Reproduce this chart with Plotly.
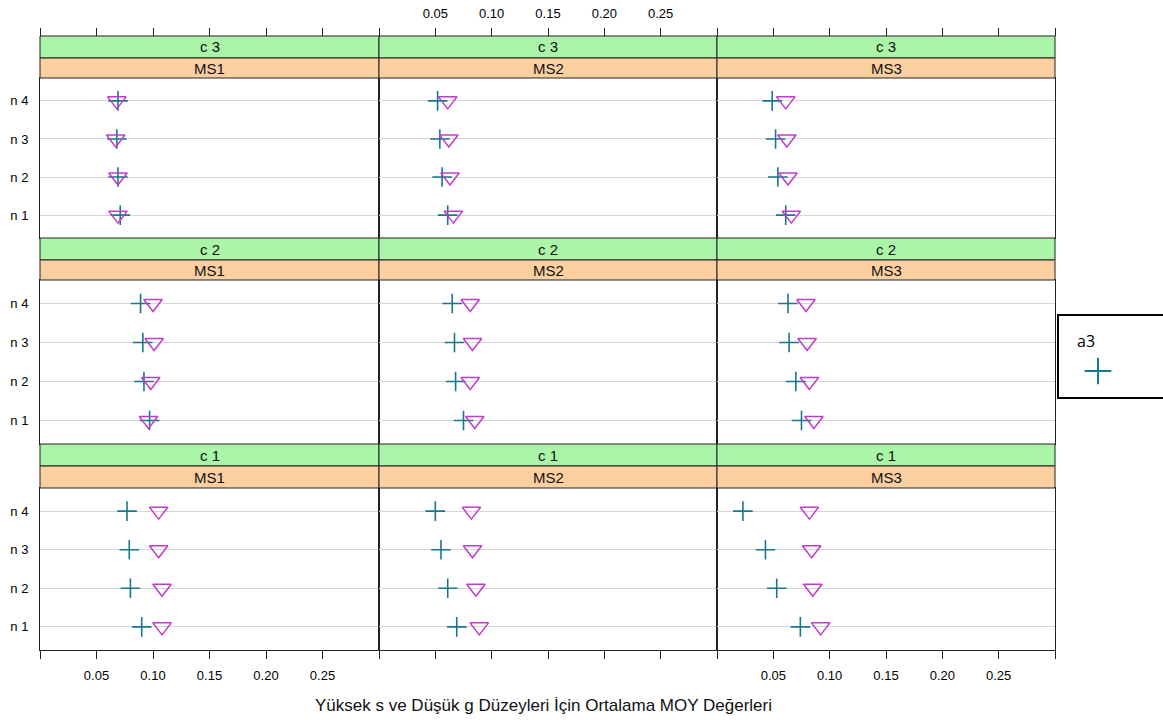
import plotly.graph_objects as go

# ---------------- data ----------------
n_levels = ["n 1", "n 2", "n 3", "n 4"]
ms_levels = ["MS1", "MS2", "MS3"]
c_levels = ["c 3", "c 2", "c 1"]          # top row -> bottom row
x_ticks = [0.0, 0.05, 0.10, 0.15, 0.20, 0.25, 0.30]
x_ticktext = ["", "0.05", "0.10", "0.15", "0.20", "0.25", ""]

# values for n1..n4, per MS1/MS2/MS3
plus_c3 = [[0.071, 0.069, 0.068, 0.069], [0.061, 0.056, 0.054, 0.052], [0.061, 0.054, 0.052, 0.049]]
tri_c3 = [[0.069, 0.069, 0.067, 0.068], [0.066, 0.063, 0.062, 0.061], [0.066, 0.063, 0.062, 0.061]]
plus_c2 = [[0.097, 0.092, 0.091, 0.089], [0.075, 0.068, 0.067, 0.065], [0.075, 0.070, 0.064, 0.063]]
tri_c2 = [[0.096, 0.098, 0.101, 0.100], [0.085, 0.081, 0.083, 0.081], [0.086, 0.082, 0.080, 0.079]]
plus_c1 = [[0.090, 0.080, 0.079, 0.077], [0.069, 0.061, 0.055, 0.050], [0.074, 0.053, 0.043, 0.023]]
tri_c1 = [[0.108, 0.108, 0.105, 0.105], [0.089, 0.086, 0.083, 0.082], [0.092, 0.085, 0.084, 0.082]]

plus_rows = [plus_c3, plus_c2, plus_c1]
tri_rows = [tri_c3, tri_c2, tri_c1]

legend_label = "a3"
x_title = "Yüksek s ve Düşük g Düzeyleri İçin Ortalama MOY Değerleri"

# ---------------- layout geometry (pixels) ----------------
W, H = 1163, 720
col_px = [(40, 379), (379, 717), (717, 1055)]
panel_px = [(78, 238), (280, 444), (488, 650)]
green_px = [(36, 58), (238, 260), (444, 466)]
orange_px = [(58, 78), (260, 280), (466, 488)]

PLUS_COL = "#17778C"
TRI_COL = "#C13CC9"
GREEN = "#AAF5A7"
ORANGE = "#FCCFA1"
FONT = "Liberation Sans"

def fx(px):
    return px / W

def fy(py):
    return 1 - py / H

fig = go.Figure()
layout = dict(
    width=W, height=H, margin=dict(l=0, r=0, t=0, b=0, autoexpand=False),
    paper_bgcolor="white", plot_bgcolor="white", showlegend=False,
    font=dict(family=FONT, color="black"),
)
shapes = []
annotations = []
ypos = [1, 2, 3, 4]

idx = 0
for r in range(3):
    for c in range(3):
        idx += 1
        xa = "x" if idx == 1 else f"x{idx}"
        ya = "y" if idx == 1 else f"y{idx}"
        fig.add_trace(go.Scatter(
            x=plus_rows[r][c], y=ypos, mode="markers", xaxis=xa, yaxis=ya,
            marker=dict(symbol="cross-thin-open", size=14, color=PLUS_COL,
                        line=dict(color=PLUS_COL, width=1.6)),
            cliponaxis=False))
        fig.add_trace(go.Scatter(
            x=tri_rows[r][c], y=ypos, mode="markers", xaxis=xa, yaxis=ya,
            marker=dict(symbol="triangle-down-open", size=16, color=TRI_COL,
                        line=dict(color=TRI_COL, width=1.5)),
            cliponaxis=False))
        bottom = (r == 2)
        xkey = "xaxis" if idx == 1 else f"xaxis{idx}"
        ykey = "yaxis" if idx == 1 else f"yaxis{idx}"
        layout[xkey] = dict(
            domain=[fx(col_px[c][0]), fx(col_px[c][1])], range=[0, 0.3],
            anchor=ya, showgrid=False, zeroline=False, automargin=False,
            showline=True, mirror=True, linecolor="#222", linewidth=1,
            tickvals=x_ticks, ticktext=x_ticktext,
            ticks="outside" if bottom else "", ticklen=8, tickcolor="#222",
            showticklabels=bottom and c != 1,
            tickfont=dict(size=13, family=FONT), ticklabelstandoff=5,
        )
        layout[ykey] = dict(
            domain=[fy(panel_px[r][1]), fy(panel_px[r][0])], range=[0.4, 4.6],
            anchor=xa, showgrid=True, gridcolor="#d6d6d6", gridwidth=1, zeroline=False,
            automargin=False,
            showline=True, mirror=True, linecolor="#222", linewidth=1,
            tickvals=ypos, ticktext=n_levels, ticks="",
            showticklabels=(c == 0), tickfont=dict(size=13, family=FONT),
            ticklabelstandoff=8,
        )
        # strips
        shapes.append(dict(type="rect", xref="paper", yref="paper",
                           x0=fx(col_px[c][0]), x1=fx(col_px[c][1]),
                           y0=fy(green_px[r][1]), y1=fy(green_px[r][0]),
                           fillcolor=GREEN, line=dict(color="#222", width=1), layer="above"))
        shapes.append(dict(type="rect", xref="paper", yref="paper",
                           x0=fx(col_px[c][0]), x1=fx(col_px[c][1]),
                           y0=fy(orange_px[r][1]), y1=fy(orange_px[r][0]),
                           fillcolor=ORANGE, line=dict(color="#222", width=1), layer="above"))
        annotations.append(dict(xref="paper", yref="paper",
                                x=fx((col_px[c][0] + col_px[c][1]) / 2),
                                y=fy((green_px[r][0] + green_px[r][1]) / 2),
                                text=c_levels[r], showarrow=False,
                                font=dict(size=15, family=FONT, color="#111"),
                                xanchor="center", yanchor="middle"))
        annotations.append(dict(xref="paper", yref="paper",
                                x=fx((col_px[c][0] + col_px[c][1]) / 2),
                                y=fy((orange_px[r][0] + orange_px[r][1]) / 2),
                                text=ms_levels[c], showarrow=False,
                                font=dict(size=15, family=FONT, color="#111"),
                                xanchor="center", yanchor="middle"))

# top tick axes (above the top strips)
for c in range(3):
    k = 10 + c
    base = "x" if c == 0 else f"x{c + 1}"
    fig.add_trace(go.Scatter(x=[None], y=[None], xaxis=f"x{k}", yaxis="y" if c == 0 else f"y{c + 1}",
                             mode="markers", hoverinfo="skip"))
    layout[f"xaxis{k}"] = dict(
        overlaying=base, anchor="free", position=fy(36), side="top",
        range=[0, 0.3], showgrid=False, zeroline=False, showline=True, automargin=False,
        linecolor="#222", linewidth=1,
        tickvals=x_ticks, ticktext=x_ticktext, ticks="outside", ticklen=8, tickcolor="#222",
        showticklabels=(c == 1), tickfont=dict(size=13, family=FONT), ticklabelstandoff=5,
    )

# legend (key box)
shapes.append(dict(type="rect", xref="paper", yref="paper",
                   x0=fx(1058), x1=fx(1170), y0=fy(398), y1=fy(315),
                   line=dict(color="black", width=2), fillcolor="white", layer="below"))
annotations.append(dict(xref="paper", yref="paper", x=fx(1075), y=fy(341), text=legend_label,
                        showarrow=False, xanchor="left", yanchor="middle",
                        font=dict(size=16, family="Open Sans", color="black")))
fig.add_trace(go.Scatter(x=[0.5], y=[0.5], xaxis="x13", yaxis="y13", mode="markers",
                         marker=dict(symbol="cross-thin-open", size=19, color=PLUS_COL,
                                     line=dict(color=PLUS_COL, width=2)), hoverinfo="skip"))
layout["xaxis13"] = dict(domain=[fx(1083), fx(1113)], range=[0, 1], visible=False, anchor="y13")
layout["yaxis13"] = dict(domain=[fy(386), fy(356)], range=[0, 1], visible=False, anchor="x13")

# x-axis title
annotations.append(dict(xref="paper", yref="paper", x=fx(543), y=fy(705), text=x_title,
                        showarrow=False, xanchor="center", yanchor="middle",
                        font=dict(size=17, family=FONT, color="#111")))

layout["shapes"] = shapes
layout["annotations"] = annotations
fig.update_layout(**layout)
fig.write_html("out.html", config={"displayModeBar": False},
               post_script="document.body.style.margin='0px';document.body.style.overflow='hidden';")
